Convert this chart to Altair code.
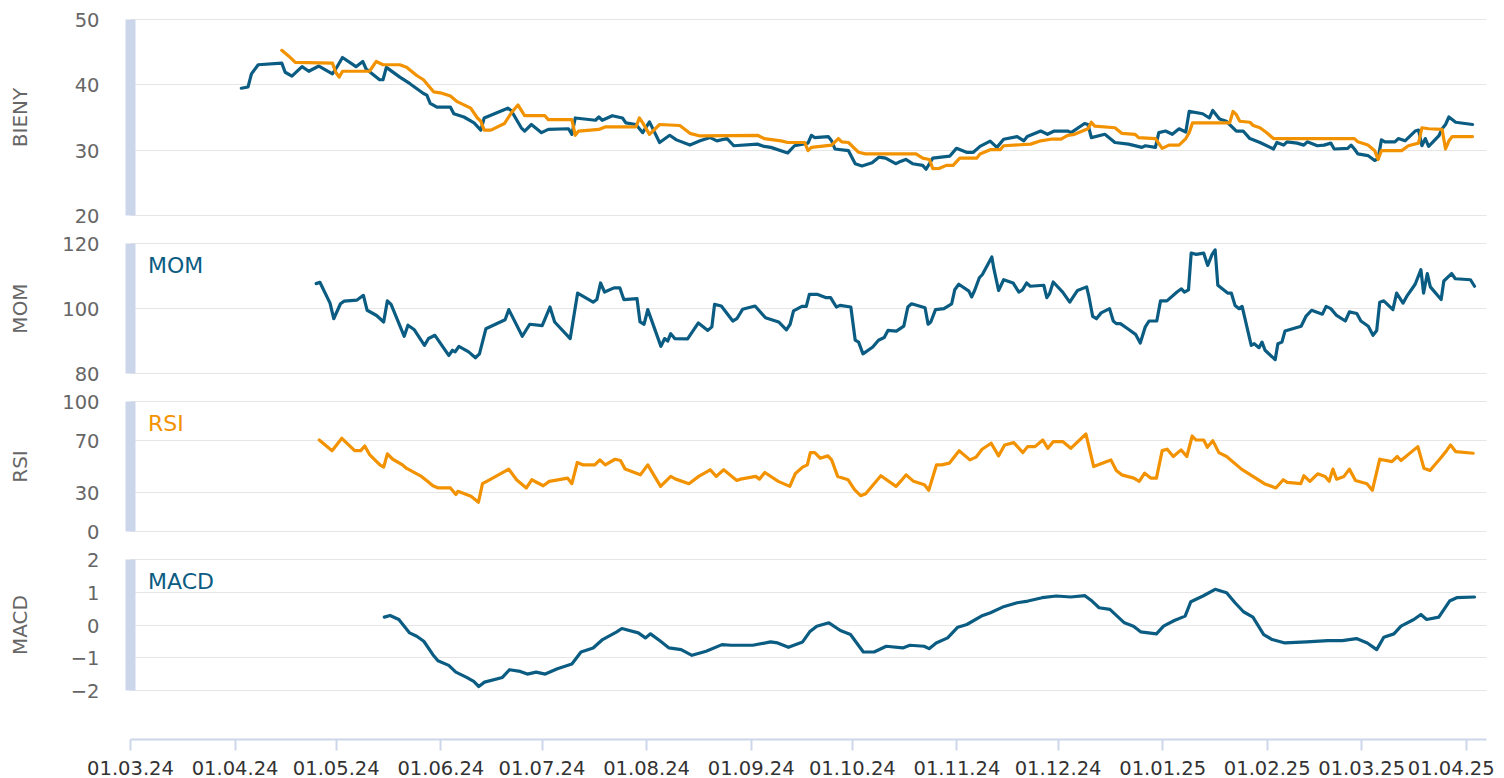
import altair as alt
import pandas as pd

BASE_DATE = "2024-03-01"
BLUE = "#0b5c82"
ORANGE = "#f39200"
FONT = "DejaVu Sans"

# ---- BIENY price (blue) : day offset from 01.03.24, value
price_days = [33, 35, 36, 38, 45, 46, 48, 51, 53, 56, 60, 61, 63, 67, 69, 70, 74, 75, 76, 80,
              83, 87, 88, 89, 91, 95, 96, 99, 102, 104, 105, 112, 113, 116, 117, 119, 122, 124, 130, 131,
              132, 138, 139, 140, 143, 146, 147, 150, 152, 154, 157, 160, 162, 166, 169, 172, 174, 177, 179, 186,
              188, 190, 195, 197, 201, 202, 203, 207, 208, 209, 213, 215, 217, 220, 222, 224, 227, 228, 230, 232,
              235, 236, 238, 243, 245, 248, 250, 252, 255, 257, 259, 263, 265, 266, 270, 272, 274, 278, 279, 283,
              284, 285, 289, 292, 296, 300, 301, 304, 305, 307, 309, 311, 313, 314, 318, 320, 321, 323, 325, 328,
              330, 332, 335, 339, 340, 342, 343, 346, 348, 349, 352, 354, 356, 357, 361, 362, 363, 364, 367, 369,
              370, 371, 372, 375, 376, 378, 381, 382, 383, 384, 385, 388, 389, 390, 391, 393, 398]
price_vals = [39.4, 39.6, 41.6, 43.0, 43.25, 41.85, 41.25, 42.7, 42.0, 42.8, 41.6, 42.35, 44.1, 42.7, 43.5, 42.35, 40.7, 40.7, 42.6, 41.1,
              40.1, 38.6, 38.35, 37.1, 36.5, 36.5, 35.5, 35.0, 34.1, 33.0, 34.85, 36.35, 36.0, 33.35, 32.85, 33.85, 32.6, 33.1, 33.2, 32.35,
              34.85, 34.5, 35.0, 34.5, 35.2, 34.85, 34.1, 33.85, 32.6, 34.25, 31.1, 32.2, 31.5, 30.7, 31.35, 31.85, 31.35, 31.7, 30.6, 30.85,
              30.5, 30.35, 29.5, 30.6, 31.0, 32.2, 31.85, 32.0, 31.35, 30.1, 29.85, 27.85, 27.5, 28.0, 28.85, 28.7, 27.85, 28.1, 28.5, 27.85,
              27.6, 27.0, 28.7, 29.0, 30.2, 29.6, 29.6, 30.5, 31.3, 30.35, 31.6, 32.0, 31.35, 32.0, 32.85, 32.35, 32.85, 32.85, 32.6, 34.0,
              33.85, 31.85, 32.35, 31.1, 30.85, 30.35, 30.6, 30.35, 32.6, 32.85, 32.35, 33.2, 32.7, 35.85, 35.5, 34.85, 36.0, 34.7, 34.35, 32.85,
              32.85, 31.7, 31.1, 30.1, 31.1, 30.7, 31.2, 31.0, 30.7, 31.2, 30.6, 30.7, 31.0, 30.1, 30.2, 30.7, 30.1, 29.35, 29.1, 28.35,
              28.6, 31.5, 31.2, 31.2, 31.7, 31.35, 32.85, 33.0, 30.6, 31.7, 30.5, 32.1, 33.2, 33.85, 35.0, 34.2, 33.85]

# ---- BIENY second line (orange)
avg_days = [45, 47, 49, 60, 61, 62, 63, 71, 73, 75, 80, 82, 85, 87, 90, 92, 95, 97, 101, 103,
            104, 105, 107, 111, 113, 115, 117, 123, 124, 131, 132, 133, 139, 141, 150, 151, 152, 154, 157, 163,
            166, 169, 186, 188, 193, 195, 200, 201, 202, 208, 210, 211, 213, 216, 218, 233, 235, 237, 238, 240,
            242, 244, 246, 251, 252, 255, 258, 259, 267, 270, 273, 276, 278, 280, 284, 285, 286, 292, 294, 298,
            299, 304, 306, 308, 311, 313, 314, 315, 326, 327, 328, 329, 332, 333, 335, 337, 339, 363, 364, 367,
            369, 370, 371, 377, 379, 382, 383, 385, 389, 390, 391, 392, 398]
avg_vals = [45.2, 44.35, 43.35, 43.25, 41.85, 41.1, 42.0, 42.0, 43.5, 43.0, 43.0, 42.6, 41.35, 40.7, 38.85, 38.7, 38.2, 37.35, 36.35, 34.85,
            34.35, 33.0, 33.0, 34.0, 35.6, 36.85, 35.2, 35.2, 34.6, 34.6, 32.2, 32.85, 33.1, 33.5, 33.5, 34.85, 34.1, 32.35, 33.85, 33.7,
            32.5, 32.1, 32.2, 31.7, 31.35, 31.1, 31.1, 29.85, 30.35, 30.7, 31.7, 31.2, 31.1, 29.6, 29.35, 29.35, 28.7, 28.5, 27.1, 27.15,
            27.6, 27.6, 28.7, 28.7, 29.35, 30.0, 30.0, 30.6, 30.85, 31.35, 31.6, 31.6, 32.2, 32.35, 33.2, 34.2, 33.6, 33.35, 32.5, 32.35,
            31.85, 31.7, 30.2, 30.7, 30.7, 31.7, 32.6, 34.1, 34.1, 35.85, 35.35, 34.35, 34.2, 33.7, 33.35, 32.6, 31.7, 31.7, 31.2, 30.7,
            29.85, 28.5, 29.85, 29.85, 30.6, 31.0, 33.35, 33.2, 33.1, 30.1, 31.35, 32.0, 32.0]

# ---- MOM
mom_days = [55.2, 56.3, 59.3, 60.4, 62.4, 63.5, 67.2, 69.2, 70.3, 73.1, 75.2, 76.3, 77.4, 81.3, 82.4, 84.3, 87.3, 88.5, 90.4, 94.5,
            95.6, 96.4, 97.5, 100.4, 102.4, 103.6, 105.5, 111.2, 112.3, 116.3, 118.5, 122.2, 124.5, 125.9, 130.5, 131.3, 132.7, 137.3, 138.4, 139.5,
            140.7, 143.5, 145.2, 146.4, 150.3, 151.2, 152.4, 153.5, 157.4, 158.5, 159.4, 160.3, 161.5, 165.3, 168.5, 171.3, 172.5, 173.3, 175.3, 178.7,
            179.9, 181.6, 185.3, 188.4, 192.3, 194.6, 195.7, 196.7, 199.2, 200.5, 201.4, 203.7, 206.2, 207.7, 209.4, 210.5, 213.7, 215.0, 216.0, 217.3,
            220.2, 221.9, 223.6, 224.7, 227.2, 229.4, 230.6, 231.7, 235.7, 236.6, 237.4, 238.8, 241.3, 243.6, 244.5, 245.7, 248.7, 249.5, 250.4, 251.8,
            252.7, 255.5, 256.1, 257.5, 259.0, 261.8, 263.5, 264.6, 265.8, 266.9, 270.9, 271.8, 272.6, 273.7, 276.5, 278.6, 280.9, 283.6, 284.3, 285.4,
            286.5, 287.9, 290.4, 291.5, 292.4, 293.6, 295.8, 298.1, 299.5, 301.0, 302.1, 304.4, 305.5, 307.4, 310.4, 311.7, 312.6, 313.8, 314.6, 316.1,
            318.3, 319.5, 320.8, 321.7, 322.5, 325.4, 326.5, 327.6, 328.8, 329.7, 332.4, 333.3, 334.7, 335.6, 336.5, 339.5, 340.3, 341.5, 342.4, 347.2,
            348.6, 350.3, 353.5, 354.6, 356.0, 357.7, 360.3, 361.5, 363.7, 364.9, 367.1, 368.5, 369.6, 370.5, 371.7, 374.4, 375.5, 377.4, 378.7, 381.0,
            382.7, 383.5, 384.6, 385.5, 388.7, 389.5, 391.8, 392.9, 397.4, 398.6]
mom_vals = [107.5, 107.9, 101.5, 96.7, 101.3, 102.1, 102.4, 103.9, 99.3, 97.7, 95.7, 102.2, 101.1, 91.3, 94.7, 93.3, 88.5, 90.6, 91.6, 85.4,
            87.0, 86.5, 88.2, 86.5, 84.7, 85.9, 93.6, 96.4, 99.5, 91.3, 95.0, 94.6, 100.3, 95.7, 90.6, 95.7, 104.6, 101.8, 102.6, 107.7,
            104.9, 106.2, 106.2, 102.6, 102.9, 95.7, 95.0, 99.5, 88.2, 90.6, 89.8, 92.1, 90.6, 90.5, 95.4, 93.1, 94.2, 101.1, 100.6, 96.0,
            96.7, 99.6, 100.6, 97.0, 95.7, 93.3, 95.0, 99.1, 100.5, 100.5, 104.2, 104.2, 103.2, 103.2, 100.3, 100.8, 100.3, 90.1, 89.5, 85.9,
            88.0, 90.1, 90.9, 93.1, 92.9, 94.4, 100.3, 101.3, 100.1, 95.0, 95.7, 99.5, 99.8, 101.3, 105.6, 107.3, 105.2, 103.4, 105.4, 109.3,
            110.3, 115.7, 112.1, 105.4, 108.7, 107.7, 104.9, 105.6, 107.7, 106.7, 107.0, 103.2, 104.4, 108.0, 104.9, 101.8, 105.4, 106.5, 103.4, 97.4,
            96.7, 98.5, 99.8, 96.0, 95.2, 95.2, 93.6, 91.9, 89.2, 94.2, 96.0, 96.0, 102.2, 102.2, 104.9, 105.9, 104.9, 105.6, 116.9, 116.5,
            116.9, 113.1, 116.5, 117.9, 107.0, 104.6, 104.6, 100.8, 99.8, 100.5, 88.5, 89.0, 87.8, 89.5, 87.0, 84.1, 89.0, 89.5, 92.9, 94.4,
            97.4, 99.3, 98.1, 100.5, 99.8, 97.7, 96.0, 98.8, 98.3, 96.0, 94.4, 91.6, 93.1, 101.8, 102.2, 99.5, 104.6, 101.5, 103.9, 107.3,
            111.8, 104.6, 110.6, 106.5, 102.6, 108.3, 110.6, 109.0, 108.7, 106.7]

# ---- RSI
rsi_days = [56.1, 59.9, 62.8, 66.6, 68.4, 69.6, 71.1, 74.1, 75.2, 76.3, 77.9, 80.8, 81.9, 86.4, 88.2, 89.8, 91.4, 95.0, 96.6, 97.2,
            101.1, 103.3, 104.5, 106.3, 112.3, 114.6, 117.5, 119.1, 122.5, 124.3, 128.1, 129.7, 131.0, 132.6, 134.2, 137.8, 139.3, 140.9, 143.8, 145.4,
            146.8, 151.3, 153.5, 157.3, 160.3, 161.8, 165.7, 168.6, 172.0, 173.8, 176.0, 179.9, 181.0, 185.5, 186.6, 188.2, 192.2, 195.6, 197.2, 199.4,
            200.8, 201.7, 203.0, 204.6, 206.9, 208.0, 209.8, 212.9, 214.8, 216.6, 218.1, 222.6, 227.1, 228.7, 230.1, 232.3, 235.5, 236.8, 239.1, 240.6,
            242.9, 245.8, 249.0, 250.8, 252.6, 255.3, 257.5, 259.3, 262.0, 263.1, 264.7, 266.1, 268.3, 270.6, 272.1, 273.7, 276.6, 278.9, 283.4, 285.7,
            290.8, 292.4, 294.0, 297.6, 299.2, 300.8, 302.6, 304.3, 306.0, 307.5, 309.3, 311.6, 313.3, 314.9, 316.0, 318.3, 319.4, 321.0, 322.8, 325.1,
            329.5, 332.9, 336.3, 339.7, 341.9, 343.1, 347.1, 348.0, 349.8, 352.1, 354.3, 355.5, 356.6, 357.7, 359.9, 361.5, 363.3, 366.7, 368.3, 370.5,
            374.1, 375.7, 376.8, 381.8, 383.6, 385.4, 388.5, 390.3, 391.5, 393.0, 398.2]
rsi_vals = [70.0, 61.8, 71.3, 61.8, 61.8, 65.4, 58.5, 50.9, 49.1, 59.3, 55.2, 50.9, 48.3, 42.0, 38.2, 34.8, 33.1, 33.1, 28.0, 30.5,
            26.7, 22.1, 36.4, 38.9, 47.6, 39.4, 33.1, 39.4, 34.8, 38.2, 39.9, 40.7, 36.4, 52.7, 50.9, 50.9, 54.7, 50.9, 55.2, 54.2,
            47.6, 43.2, 50.9, 34.3, 42.0, 39.9, 36.4, 42.0, 47.1, 42.0, 47.1, 38.9, 39.9, 42.0, 39.9, 45.0, 38.2, 34.3, 44.0, 49.1,
            50.9, 60.3, 60.3, 56.0, 57.8, 54.7, 42.0, 39.4, 31.8, 27.2, 28.7, 42.5, 34.3, 38.9, 43.2, 38.2, 35.6, 31.3, 50.9, 50.9,
            52.2, 61.8, 54.7, 56.8, 62.9, 67.5, 57.8, 66.2, 68.0, 64.9, 60.3, 64.9, 64.9, 70.0, 63.6, 68.7, 68.7, 63.6, 74.6, 49.6,
            54.7, 46.6, 43.2, 40.7, 38.2, 44.5, 40.7, 40.7, 61.8, 62.9, 57.3, 62.4, 57.3, 73.1, 70.0, 70.0, 64.4, 69.5, 60.3, 57.3,
            47.6, 42.0, 36.4, 33.1, 39.4, 37.4, 36.4, 42.5, 38.2, 44.0, 42.0, 38.2, 47.6, 39.9, 42.0, 47.6, 38.9, 36.4, 31.3, 55.2,
            53.4, 57.3, 54.2, 64.9, 48.3, 46.6, 56.0, 61.8, 66.2, 61.1, 59.8]

# ---- MACD
macd_days = [75.4, 77.1, 79.7, 82.9, 85.0, 87.1, 89.8, 91.3, 94.5, 96.6, 99.8, 101.9, 103.4, 105.1, 110.4, 112.5, 115.7, 117.8, 120.4, 123.1,
             126.7, 131.0, 133.7, 137.3, 140.1, 144.3, 145.8, 150.7, 152.8, 154.3, 157.0, 159.8, 163.4, 166.6, 170.8, 175.5, 178.2, 184.6, 189.9, 192.0,
             195.2, 199.4, 201.5, 203.6, 207.2, 210.6, 213.6, 217.4, 220.6, 224.2, 229.1, 231.2, 235.4, 236.9, 239.0, 242.4, 245.4, 248.1, 252.4, 255.1,
             258.7, 263.0, 266.2, 270.4, 274.6, 278.9, 283.1, 285.2, 287.3, 290.5, 294.8, 297.5, 299.6, 304.3, 306.4, 309.6, 312.8, 314.5, 318.1, 321.7,
             325.1, 327.6, 330.1, 332.9, 336.1, 338.6, 342.4, 348.8, 355.1, 359.4, 363.6, 366.8, 369.6, 371.7, 374.7, 376.8, 380.6, 382.7, 384.4, 388.0,
             391.2, 393.3, 398.6]
macd_vals = [0.225, 0.276, 0.153, -0.256, -0.358, -0.512, -0.921, -1.105, -1.248, -1.453, -1.616, -1.739, -1.893, -1.76, -1.616, -1.381, -1.432, -1.514, -1.453, -1.514,
             -1.35, -1.207, -0.839, -0.716, -0.46, -0.225, -0.123, -0.256, -0.409, -0.286, -0.491, -0.716, -0.767, -0.941, -0.818, -0.614, -0.634, -0.634, -0.532, -0.563,
             -0.696, -0.532, -0.225, -0.051, 0.051, -0.184, -0.307, -0.839, -0.839, -0.665, -0.716, -0.634, -0.665, -0.737, -0.563, -0.409, -0.082, 0.0, 0.256, 0.358,
             0.532, 0.665, 0.716, 0.818, 0.87, 0.839, 0.88, 0.716, 0.512, 0.46, 0.051, -0.051, -0.225, -0.286, -0.051, 0.123, 0.256, 0.696, 0.87, 1.074,
             0.972, 0.665, 0.389, 0.225, -0.307, -0.46, -0.563, -0.532, -0.491, -0.491, -0.43, -0.563, -0.767, -0.389, -0.286, -0.051, 0.153, 0.307, 0.153, 0.225,
             0.716, 0.818, 0.839]

month_ticks = [(2024, m) for m in range(3, 13)] + [(2025, m) for m in range(1, 5)]


def frame(days, vals):
    dates = pd.Timestamp(BASE_DATE) + pd.to_timedelta(pd.Series(days, dtype=float), unit="D")
    return pd.DataFrame({"date": dates, "value": vals})


x_scale = alt.Scale(domain=[alt.DateTime(year=2024, month=3, date=1),
                            alt.DateTime(year=2025, month=4, date=7)], nice=False)
W = 1356


def y_axis(title, values, height):
    return alt.Axis(values=values, title=title, grid=True, gridColor="#e6e6e6", gridWidth=1,
                    domain=True, domainColor="#ccd6eb", domainWidth=10, ticks=False,
                    labelPadding=31, labelFontSize=19.5, labelColor="#666666", labelFont=FONT,
                    labelOffset=1.5,
                    titleFont=FONT, titleFontSize=20, titleColor="#666666", titleFontWeight="normal",
                    titleAngle=-90, titleX=-109.5, titleY=height / 2, titleAlign="center",
                    titleBaseline="middle")


def line(df, color, scale, axis, xaxis=None):
    return alt.Chart(df).mark_line(color=color, strokeWidth=3.2, strokeJoin="round", strokeCap="round").encode(
        x=alt.X("date:T", scale=x_scale, axis=xaxis),
        y=alt.Y("value:Q", scale=scale, axis=axis),
    )


def label(text, color):
    return alt.Chart(pd.DataFrame({"t": [text]})).mark_text(
        align="left", baseline="alphabetic", fontSize=22, font=FONT, color=color
    ).encode(x=alt.value(18), y=alt.value(30), text="t:N")


H1, H2, H3, H4 = 196, 130, 130, 131

s1 = alt.Scale(domain=[20, 50], nice=False, zero=False)
a1 = y_axis("BIENY", [20, 30, 40, 50], H1)
p1 = alt.layer(line(frame(price_days, price_vals), BLUE, s1, a1),
               line(frame(avg_days, avg_vals), ORANGE, s1, a1)).properties(width=W, height=H1)

s2 = alt.Scale(domain=[80, 120], nice=False, zero=False)
p2 = alt.layer(line(frame(mom_days, mom_vals), BLUE, s2, y_axis("MOM", [80, 100, 120], H2)),
               label("MOM", BLUE)).properties(width=W, height=H2)

s3 = alt.Scale(domain=[0, 100], nice=False)
p3 = alt.layer(line(frame(rsi_days, rsi_vals), ORANGE, s3, y_axis("RSI", [0, 30, 70, 100], H3)),
               label("RSI", ORANGE)).properties(width=W, height=H3)

x_axis = alt.Axis(values=[alt.DateTime(year=y, month=m, date=1) for y, m in month_ticks],
                  format="%d.%m.%y", offset=49, title=None, grid=False,
                  domainColor="#ccd6eb", domainWidth=2, tickColor="#ccd6eb", tickWidth=2, tickSize=11,
                  labelFontSize=19.5, labelColor="#333333", labelFont=FONT, labelPadding=9,
                  labelOffset={"condition": {"test": "year(datum.value) == 2025 && month(datum.value) == 3",
                                             "value": -15}, "value": 0},
                  labelFlush=False, labelOverlap=False)
s4 = alt.Scale(domain=[-2, 2], nice=False, zero=False)
p4 = alt.layer(line(frame(macd_days, macd_vals), BLUE, s4, y_axis("MACD", [-2, -1, 0, 1, 2], H4), x_axis),
               label("MACD", BLUE)).properties(width=W, height=H4)

chart = alt.vconcat(p1, p2, p3, p4, spacing=28, bounds="flush",
                    padding={"left": 2, "top": 2, "right": 0, "bottom": 0},
                    background="white").configure_view(strokeWidth=0)

chart.save("out.html", embed_options={"renderer": "svg", "actions": False})
